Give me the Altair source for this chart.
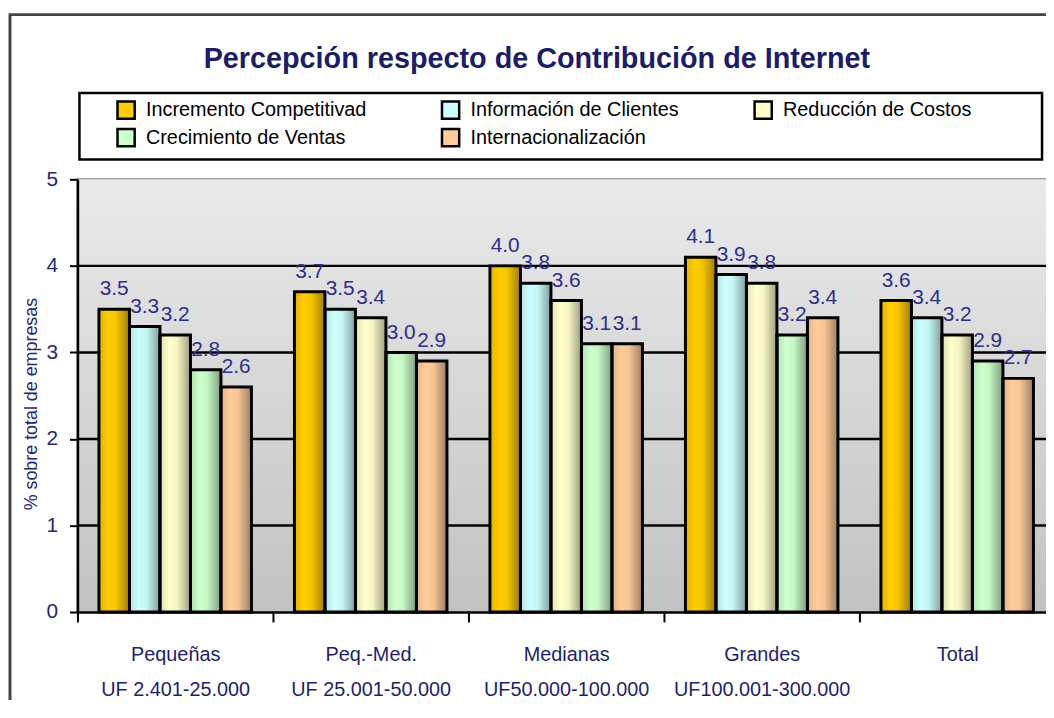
import altair as alt
import pandas as pd

# ---- data ----
categories = [
    "Pequeñas|UF 2.401-25.000",
    "Peq.-Med.|UF 25.001-50.000",
    "Medianas|UF50.000-100.000",
    "Grandes|UF100.001-300.000",
    "Total",
]
series = [
    "Incremento Competitivad",
    "Información de Clientes",
    "Reducción de Costos",
    "Crecimiento de Ventas",
    "Internacionalización",
]
incremento = [3.5, 3.7, 4.0, 4.1, 3.6]
informacion = [3.3, 3.5, 3.8, 3.9, 3.4]
reduccion = [3.2, 3.4, 3.6, 3.8, 3.2]
crecimiento = [2.8, 3.0, 3.1, 3.2, 2.9]
internacionalizacion = [2.6, 2.9, 3.1, 3.4, 2.7]
colors = ["#FFCC00", "#CCFFFF", "#FFFFCC", "#CCFFCC", "#FFCC99"]
y_ticks = [0, 1, 2, 3, 4, 5]
grid_values = [1, 2, 3, 4]
title_text = "Percepción respecto de Contribución de Internet"
y_title = "% sobre total de empresas"

values_by_series = [incremento, informacion, reduccion, crecimiento, internacionalizacion]
rows = []
for s, vals in zip(series, values_by_series):
    for c, v in zip(categories, vals):
        rows.append({"cat": c, "series": s, "value": v})
df = pd.DataFrame(rows)
grid_df = pd.DataFrame({"value": grid_values})

FONT = "Liberation Sans"
NAVY = "#26267A"
W, H = 976, 436
X_RANGE = 985
HALF_STEP = X_RANGE / len(categories) / 2

x_enc = alt.X(
    "cat:N",
    sort=categories,
    scale=alt.Scale(domain=categories, range=[0, X_RANGE], paddingInner=0.22, paddingOuter=0.11),
    axis=alt.Axis(
        title=None,
        labelExpr="split(datum.label, '|')",
        labelFontSize=20,
        labelColor="#1E1E6E",
        labelLineHeight=35,
        labelPadding=23,
        labelLimit=400,
        labelAngle=0,
        tickOffset=-HALF_STEP,
        labelOffset=HALF_STEP,
        tickSize=10,
        tickColor="black",
        tickWidth=2,
        domainColor="black",
        domainWidth=2.5,
        grid=False,
        zindex=1,
    ),
)
xo_enc = alt.XOffset("series:N", sort=series, scale=alt.Scale(domain=series, paddingInner=0, paddingOuter=0))
y_enc = alt.Y(
    "value:Q",
    scale=alt.Scale(domain=[0, 5], nice=False, zero=True),
    axis=alt.Axis(
        values=y_ticks,
        format="d",
        title=y_title,
        titleFontSize=18,
        titleColor=NAVY,
        titleFontWeight="normal",
        titlePadding=6,
        titleY=226,
        labelFontSize=21,
        labelColor=NAVY,
        labelPadding=12,
        tickSize=8,
        tickColor="black",
        tickWidth=2,
        domainColor="black",
        domainWidth=2.5,
        grid=False,
        zindex=1,
    ),
)

base = alt.Chart(df)

shade_gradient = {
    "gradient": "linear",
    "x1": 0, "y1": 0, "x2": 1, "y2": 0,
    "stops": [
        {"offset": 0, "color": "rgba(0,0,0,0.12)"},
        {"offset": 0.3, "color": "rgba(0,0,0,0)"},
        {"offset": 0.55, "color": "rgba(0,0,0,0.03)"},
        {"offset": 1, "color": "rgba(0,0,0,0.38)"},
    ],
}
bg_gradient = {
    "gradient": "linear",
    "x1": 0, "y1": 0, "x2": 0, "y2": 1,
    "stops": [
        {"offset": 0, "color": "#EAEAEA"},
        {"offset": 1, "color": "#C2C2C2"},
    ],
}

one = pd.DataFrame({"t": [title_text]})

background = alt.Chart(one).mark_rect(fill=bg_gradient, strokeWidth=0).encode(
    x=alt.value(0), x2=alt.value(W), y=alt.value(0), y2=alt.value(H)
)
grid_layer = alt.Chart(grid_df).mark_rule(color="black", strokeWidth=2.5).encode(y=y_enc)

fill_layer = base.mark_bar(strokeWidth=0).encode(
    x=x_enc,
    xOffset=xo_enc,
    y=y_enc,
    color=alt.Color(
        "series:N",
        sort=series,
        scale=alt.Scale(domain=series, range=colors),
        legend=alt.Legend(
            title=None,
            orient="none",
            legendX=39,
            legendY=-80,
            direction="horizontal",
            columns=3,
            symbolType="square",
            symbolSize=300,
            symbolStrokeColor="black",
            symbolStrokeWidth=2.5,
            symbolOpacity=1,
            labelFontSize=20,
            labelColor="black",
            labelOffset=10,
            columnPadding=70,
            rowPadding=0,
            labelLimit=400,
        ),
    ),
)
shade_layer = base.mark_bar(fill=shade_gradient, strokeWidth=0).encode(x=x_enc, xOffset=xo_enc, y=y_enc)
outline_layer = base.mark_bar(fillOpacity=0, stroke="black", strokeWidth=3).encode(
    x=x_enc, xOffset=xo_enc, y=y_enc
)
label_layer = base.mark_text(baseline="alphabetic", dy=-14, fontSize=21, color="#2E2E8C").encode(
    x=x_enc, xOffset=xo_enc, y=y_enc, text=alt.Text("value:Q", format=".1f")
)

title_layer = alt.Chart(one).mark_text(
    fontSize=29, fontWeight="bold", color="#1C1C6C", baseline="alphabetic", align="center"
).encode(text="t:N", x=alt.value(463), y=alt.value(-112))

legend_box = alt.Chart(one).mark_rect(fillOpacity=0, stroke="black", strokeWidth=2.5).encode(
    x=alt.value(2), x2=alt.value(972), y=alt.value(-87), y2=alt.value(-20)
)
outer_border = alt.Chart(one).mark_rect(fillOpacity=0, stroke="#444444", strokeWidth=3).encode(
    x=alt.value(-68), x2=alt.value(1100), y=alt.value(-166), y2=alt.value(700)
)

chart = (
    alt.layer(
        outer_border, legend_box, background, grid_layer,
        fill_layer, shade_layer, outline_layer, label_layer, title_layer,
    )
    .properties(
        width=W,
        height=H,
        autosize=alt.AutoSizeParams(type="none"),
        padding={"left": 70, "top": 170, "right": 0, "bottom": 86},
    )
    .configure(font=FONT)
    .configure_view(stroke="#808080", strokeWidth=2)
)

chart.save("out.html", embed_options={"renderer": "svg", "actions": False})
